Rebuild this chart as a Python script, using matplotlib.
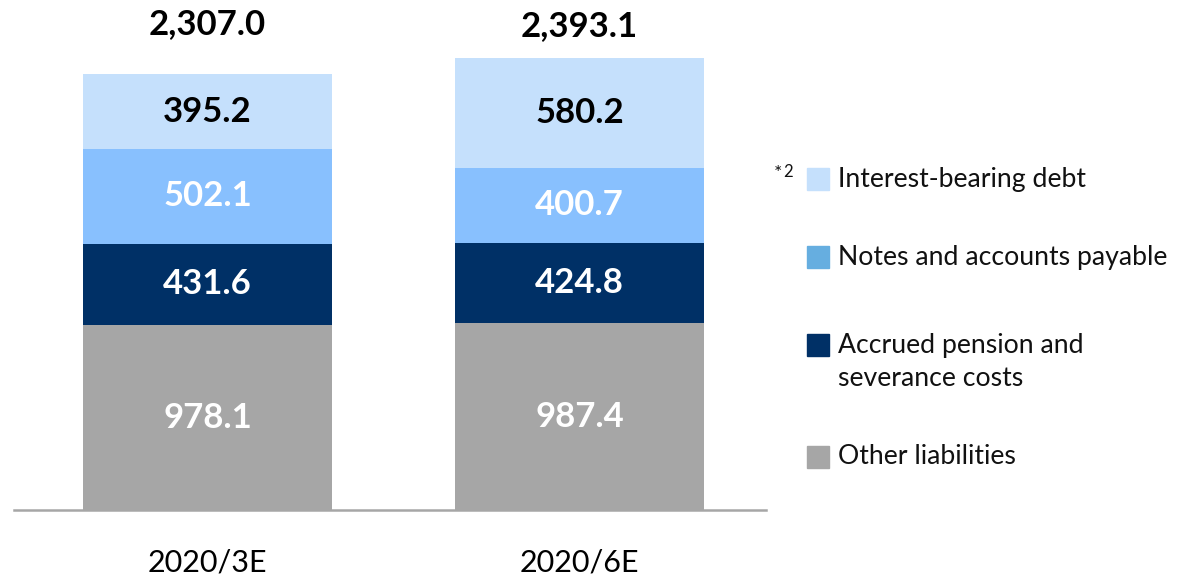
import matplotlib.pyplot as plt
from matplotlib.patches import Rectangle

plt.rcParams["font.family"] = ["Lato", "DejaVu Sans"]

periods = ["2020/3E", "2020/6E"]
series = ["Other liabilities", "Accrued pension and\nseverance costs",
          "Notes and accounts payable", "Interest-bearing debt"]
other = [978.1, 987.4]
pension = [431.6, 424.8]
payable = [502.1, 400.7]
debt = [395.2, 580.2]
totals = [2307.0, 2393.1]

values = [other, pension, payable, debt]
bar_colors = ["#a6a6a6", "#003066", "#88c0fe", "#c5e0fc"]
legend_colors = ["#a6a6a6", "#003066", "#66aee0", "#c5e0fc"]
text_colors = ["white", "white", "white", "black"]

W, H = 1197, 578
fig = plt.figure(figsize=(W / 100, H / 100), dpi=100)
ax = fig.add_axes([14 / W, 68 / H, 752 / W, 510 / H])

x = range(len(periods))
bottom = [0.0, 0.0]
for vals, col, tcol in zip(values, bar_colors, text_colors):
    ax.bar(x, vals, width=0.669, bottom=bottom, color=col, linewidth=0)
    for i, v in enumerate(vals):
        ax.text(i, bottom[i] + v / 2, f"{v:,.1f}", ha="center", va="center",
                fontsize=25, fontweight="bold", color=tcol)
    bottom = [b + v for b, v in zip(bottom, vals)]

for i, t in enumerate(totals):
    ax.text(i, 2575 - 15 * i, f"{t:,.1f}", ha="center", va="center",
            fontsize=25, fontweight="bold", color="black")

ax.set_xlim(-0.52, 1.501)
ax.set_ylim(0, 2700)
ax.set_xticks(list(x))
ax.set_xticklabels(periods, fontsize=22)
ax.tick_params(axis="x", length=0, pad=28)
ax.set_yticks([])
for s in ["top", "left", "right"]:
    ax.spines[s].set_visible(False)
ax.spines["bottom"].set_color("#a6a6a6")
ax.spines["bottom"].set_linewidth(1.8)
ax.set_facecolor("none")

# legend drawn by hand (top to bottom)
rows = [(179, "Interest-bearing debt", legend_colors[3]),
        (257, "Notes and accounts payable", legend_colors[2]),
        (362, "Accrued pension and\nseverance costs", legend_colors[1]),
        (457, "Other liabilities", legend_colors[0])]
for yc, label, col in rows:
    top = 345 if "\n" in label else yc
    fig.patches.append(Rectangle((807 / W, 1 - (top + 11) / H), 22 / W, 22 / H,
                                 transform=fig.transFigure, color=col))
    fig.text(838 / W, 1 - yc / H, label, ha="left", va="center",
             fontsize=19.2, color="#111111", linespacing=1.4)
fig.text(774 / W, 1 - 174 / H, "*", ha="left", va="center",
         fontsize=14, color="#111111")
fig.text(783 / W, 1 - 172 / H, "2", ha="left", va="center",
         fontsize=12, color="#111111")

fig.savefig("out.png", dpi=100, facecolor="white")
